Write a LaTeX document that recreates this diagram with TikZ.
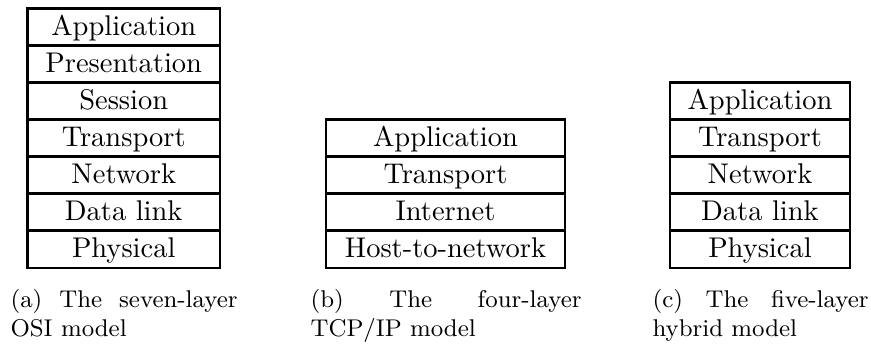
\documentclass[tikz,border=0pt]{standalone}
\usepackage{fontspec}
\begin{document}
\begin{tikzpicture}[x=0.351pt, y=-0.351pt,
  layer/.style={draw, line width=0.85pt, rectangle, inner xsep=0pt, inner ysep=0pt,
    text height=9.3pt, text depth=3.7pt, minimum height=13pt, anchor=north,
    font=\fontsize{10}{12}\selectfont},
  laya/.style={layer, minimum width={192.5*0.351pt}},
  layb/.style={layer, minimum width={239*0.351pt}},
  layc/.style={layer, minimum width={180*0.351pt}},
  capline/.style={anchor=base west, inner sep=0pt, font=\fontsize{8.5}{10.2}\selectfont}]
\useasboundingbox (0,0) rectangle (871,347);
% (a) OSI
\node[laya] (a1) at (123.75,7.5)   {Application};
\node[laya] (a2) at (123.75,44.5)  {Presentation};
\node[laya] (a3) at (123.75,81.5)  {Session};
\node[laya] (a4) at (123.75,118.5) {Transport};
\node[laya] (a5) at (123.75,155.5) {Network};
\node[laya] (a6) at (123.75,192.5) {Data link};
\node[laya] (a7) at (123.75,229.5) {Physical};
% (b) TCP/IP
\node[layb] (b1) at (445.5,118.5) {Application};
\node[layb] (b2) at (445.5,155.5) {Transport};
\node[layb] (b3) at (445.5,192.5) {Internet};
\node[layb] (b4) at (445.5,229.5) {Host-to-network};
% (c) hybrid
\node[layc] (c1) at (760,81.5)  {Application};
\node[layc] (c2) at (760,118.5) {Transport};
\node[layc] (c3) at (760,155.5) {Network};
\node[layc] (c4) at (760,192.5) {Data link};
\node[layc] (c5) at (760,229.5) {Physical};
% captions
\node[capline] (capa1) at (10,308) {\makebox[79.68pt][s]{(a) The seven-layer}};
\node[capline] (capa2) at (10,337) {OSI model};
\node[capline] (capb1) at (310,308) {\makebox[95.12pt][s]{(b) The four-layer}};
\node[capline] (capb2) at (310,337) {TCP/IP model};
\node[capline] (capc1) at (652,308) {\makebox[75.82pt][s]{(c) The five-layer}};
\node[capline] (capc2) at (652,337) {hybrid model};
\end{tikzpicture}
\end{document}
